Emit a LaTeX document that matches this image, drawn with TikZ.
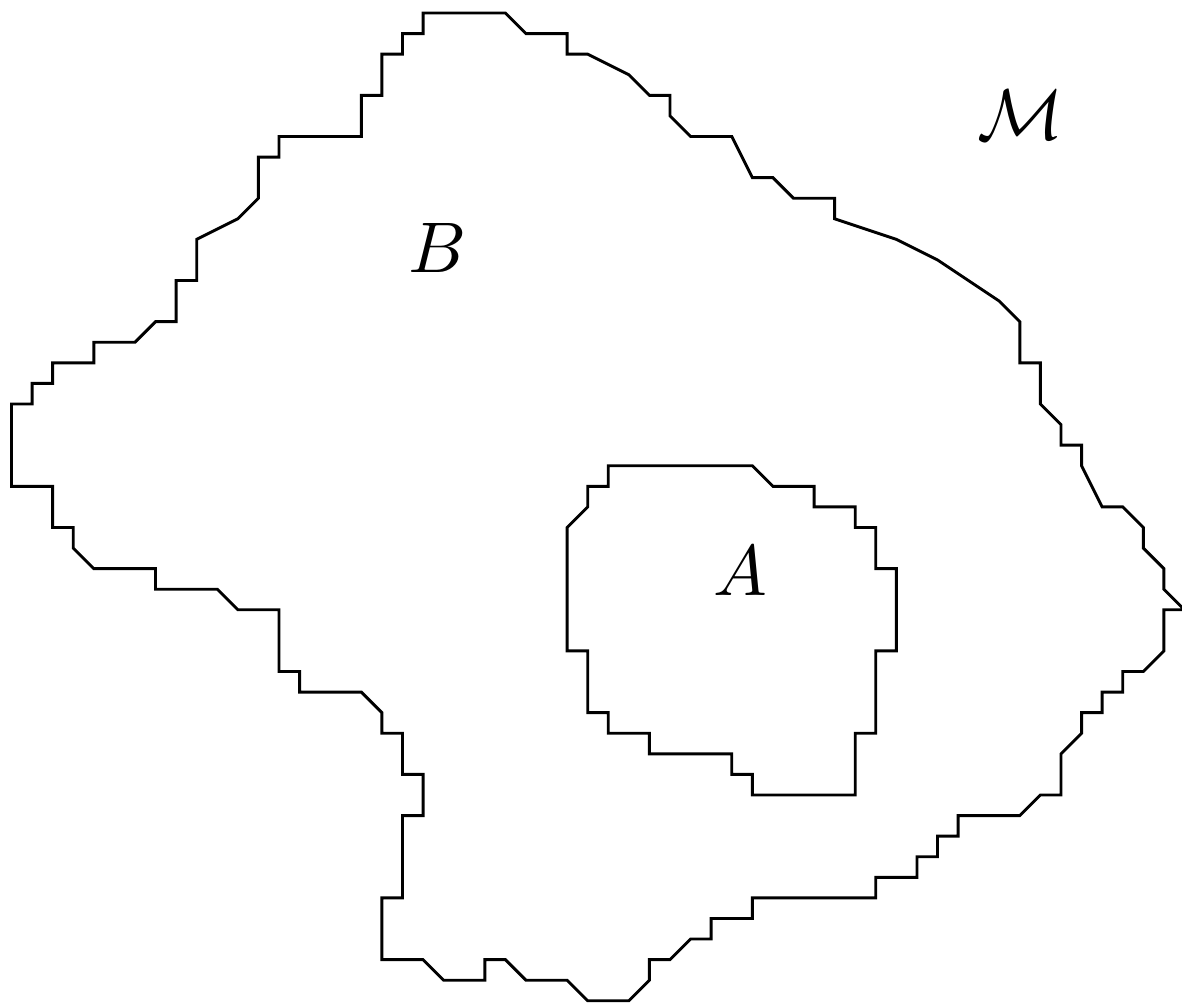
\documentclass[tikz,border=0pt]{standalone}
\begin{document}
\begin{tikzpicture}[x=0.5cm,y=-0.5cm,
  region/.style={draw=black,line width=2pt,line join=miter},
  lbl/.style={inner sep=0pt,anchor=base,scale=4.96}]
\useasboundingbox (-0.559,-0.632) rectangle (56.88,48.15);
% outer set B
\draw[region] (20,0) -- (24,0) -- (25,1) -- (27,1) -- (27,2) -- (28,2) -- (30,3) -- (31,4) -- (32,4) -- (32,5) -- (33,6) -- (35,6) -- (36,8) -- (37,8) -- (38,9) -- (40,9) -- (40,10) -- (43,11) -- (45,12) -- (48,14) -- (49,15) -- (49,17) -- (50,17) -- (50,19) -- (51,20) -- (51,21) -- (52,21) -- (52,22) -- (53,24) -- (54,24) -- (55,25) -- (55,26) -- (56,27) -- (56,28) -- (57,29) -- (56,29) -- (56,31) -- (55,32) -- (54,32) -- (54,33) -- (53,33) -- (53,34) -- (52,34) -- (52,35) -- (51,36) -- (51,38) -- (50,38) -- (49,39) -- (46,39) -- (46,40) -- (45,40) -- (45,41) -- (44,41) -- (44,42) -- (42,42) -- (42,43) -- (36,43) -- (36,44) -- (34,44) -- (34,45) -- (33,45) -- (32,46) -- (31,46) -- (31,47) -- (30,48) -- (28,48) -- (27,47) -- (25,47) -- (24,46) -- (23,46) -- (23,47) -- (21,47) -- (20,46) -- (18,46) -- (18,43) -- (19,43) -- (19,39) -- (20,39) -- (20,37) -- (19,37) -- (19,35) -- (18,35) -- (18,34) -- (17,33) -- (14,33) -- (14,32) -- (13,32) -- (13,29) -- (11,29) -- (10,28) -- (7,28) -- (7,27) -- (4,27) -- (3,26) -- (3,25) -- (2,25) -- (2,23) -- (0,23) -- (0,19) -- (1,19) -- (1,18) -- (2,18) -- (2,17) -- (4,17) -- (4,16) -- (6,16) -- (7,15) -- (8,15) -- (8,13) -- (9,13) -- (9,11) -- (11,10) -- (12,9) -- (12,7) -- (13,7) -- (13,6) -- (17,6) -- (17,4) -- (18,4) -- (18,2) -- (19,2) -- (19,1) -- (20,1) -- cycle;
% inner set A
\draw[region] (29,22) -- (36,22) -- (37,23) -- (39,23) -- (39,24) -- (41,24) -- (41,25) -- (42,25) -- (42,27) -- (43,27) -- (43,31) -- (42,31) -- (42,35) -- (41,35) -- (41,38) -- (36,38) -- (36,37) -- (35,37) -- (35,36) -- (31,36) -- (31,35) -- (29,35) -- (29,34) -- (28,34) -- (28,31) -- (27,31) -- (27,25) -- (28,24) -- (28,23) -- (29,23) -- cycle;
% labels
\node[lbl] (labB) at (20.68,12.6) {$B$};
\node[lbl] (labA) at (35.43,28.32) {$A$};
\node[lbl] (labM) at (49.05,6.13) {$\mathcal{M}$};
\end{tikzpicture}
\end{document}
